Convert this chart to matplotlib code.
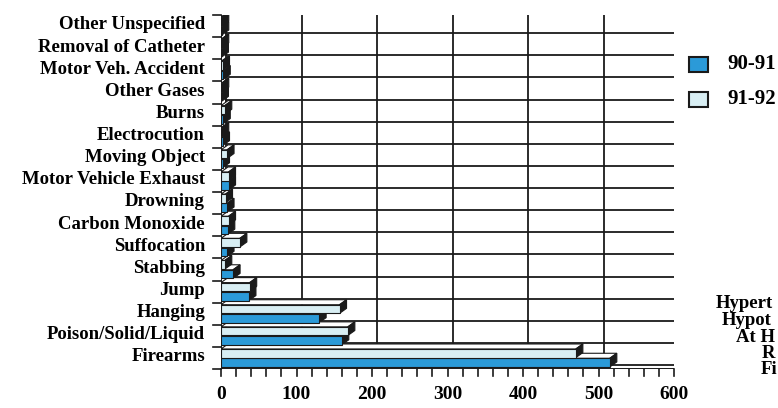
import matplotlib
matplotlib.use("Agg")
import matplotlib.pyplot as plt
import matplotlib.transforms as mtransforms
from matplotlib.patches import Polygon
import numpy as np

# causes, listed top to bottom
causes = ["Other Unspecified", "Removal of Catheter", "Motor Veh. Accident",
          "Other Gases", "Burns", "Electrocution", "Moving Object",
          "Motor Vehicle Exhaust", "Drowning", "Carbon Monoxide",
          "Suffocation", "Stabbing", "Jump", "Hanging",
          "Poison/Solid/Liquid", "Firearms"]
y9091 = [1, 0, 3, 0, 3, 2, 2, 10, 8, 9, 8, 16, 37, 130, 160, 515]
y9192 = [1, 1, 2, 1, 5, 1, 8, 10, 6, 10, 25, 5, 38, 157, 168, 470]
series_names = ["90-91", "91-92"]
xticks = [0, 100, 200, 300, 400, 500, 600]
side_notes = ["Hypert", "Hypot", "At H", "R", "Fi"]

BLUE = "#2b9ad8"
LIGHT = "#d8eef3"
INK = "#1a1a1a"
FONT = "Liberation Serif"

W, H = 778, 408
fig = plt.figure(figsize=(W / 100, H / 100), dpi=100)
ax = fig.add_axes([221 / W, (H - 369) / H, (674 - 221) / W, (369 - 15) / H])
n = len(causes)
ax.set_xlim(0, 600)
ax.set_ylim(n - 0.5, -0.5)
for s in ax.spines.values():
    s.set_visible(False)
ax.set_xticks([])
ax.set_yticks([])
ax.patch.set_visible(False)

# depth of the back wall and of the bars, in pixels
wall_dx, wall_dy = 5, 4
bar_dx, bar_dy = 7, 5
back = mtransforms.offset_copy(ax.transData, fig, x=wall_dx, y=wall_dy, units="dots")

# back wall grid
bounds = np.arange(n + 1) - 0.5
for b in bounds:
    ax.plot([0, 600], [b, b], color=INK, lw=1.3, transform=back, zorder=1)
for xv in xticks:
    ax.plot([xv, xv], [bounds[0], bounds[-1]], color=INK, lw=1.3,
            transform=back, zorder=1)


def shifted(pts, dx, dy):
    disp = ax.transData.transform(pts)
    return ax.transData.inverted().transform(disp + [dx, dy])


# edges joining the front frame to the back wall
for corner in [(0, bounds[0]), (0, bounds[-1]), (600, bounds[-1])]:
    p = shifted([corner], wall_dx, wall_dy)[0]
    ax.plot([corner[0], p[0]], [corner[1], p[1]], color=INK, lw=1.2, zorder=1)
ax.plot([0, 0], [bounds[0], bounds[-1]], color=INK, lw=1.4, zorder=1)
ax.plot([0, 600], [bounds[-1], bounds[-1]], color=INK, lw=1.4, zorder=6)

# tick marks
for b in bounds:
    ax.plot([-10, 0], [b, b], color=INK, lw=1.2, clip_on=False)
tick_len = 7
lab_off = mtransforms.offset_copy(ax.transData, fig, x=0, y=-17, units="dots")
for xv in range(0, 601, 20):
    p0 = ax.transData.transform((xv, bounds[-1]))
    p1 = ax.transData.inverted().transform(p0 - [0, tick_len])
    ax.plot([xv, xv], [bounds[-1], p1[1]], color=INK, lw=1.2, clip_on=False)
    if xv in xticks:
        ax.text(xv, bounds[-1], f"{xv}", ha="center", va="top",
                fontsize=14, fontweight="bold", family=FONT,
                transform=lab_off)

# bars with 3D top and side faces
bh = 0.39
idx = np.arange(n)
for vals, off, col in [(y9091, 0.21, BLUE), (y9192, -0.21, LIGHT)]:
    for i, v in zip(idx, vals):
        y0 = i + off - bh / 2
        y1 = i + off + bh / 2
        v = max(v, 0.6)
        top = [(0, y0), (v, y0)]
        top_b = shifted(top, bar_dx, bar_dy)
        ax.add_patch(Polygon([top[0], top[1], top_b[1], top_b[0]],
                             facecolor="white", edgecolor=INK, lw=0.8, zorder=4))
        side = [(v, y0), (v, y1)]
        side_b = shifted(side, bar_dx, bar_dy)
        ax.add_patch(Polygon([side[0], side_b[0], side_b[1], side[1]],
                             facecolor=INK, edgecolor=INK, lw=0.8, zorder=4))
    ax.barh(idx + off, vals, height=bh, color=col, edgecolor=INK,
            lw=0.8, zorder=5)

# category labels
lab_left = mtransforms.offset_copy(ax.transData, fig, x=-16, y=0, units="dots")
for i, c in enumerate(causes):
    ax.text(0, i - 0.05, c, ha="right", va="center", fontsize=13.5,
            fontweight="bold", family=FONT, transform=lab_left)

# legend
for k, (name, col) in enumerate(zip(series_names, [BLUE, LIGHT])):
    yc = 1 - (64 + 35 * k) / H
    fig.patches.append(plt.Rectangle((689 / W, yc - 7.5 / H), 19 / W, 15 / H,
                                     facecolor=col, edgecolor=INK, lw=1.5,
                                     transform=fig.transFigure))
    fig.text(727 / W, yc, name, ha="left", va="center", fontsize=15,
             fontweight="bold", family=FONT)

# cut-off labels of the neighbouring panel
for k, t in enumerate(side_notes):
    xs = [716, 722, 736, 762, 761][k]
    fig.text(xs / W, 1 - (304 + 16.5 * k) / H, t, ha="left", va="center",
             fontsize=13.5, fontweight="bold", family=FONT)

fig.savefig("out.png", dpi=100)
